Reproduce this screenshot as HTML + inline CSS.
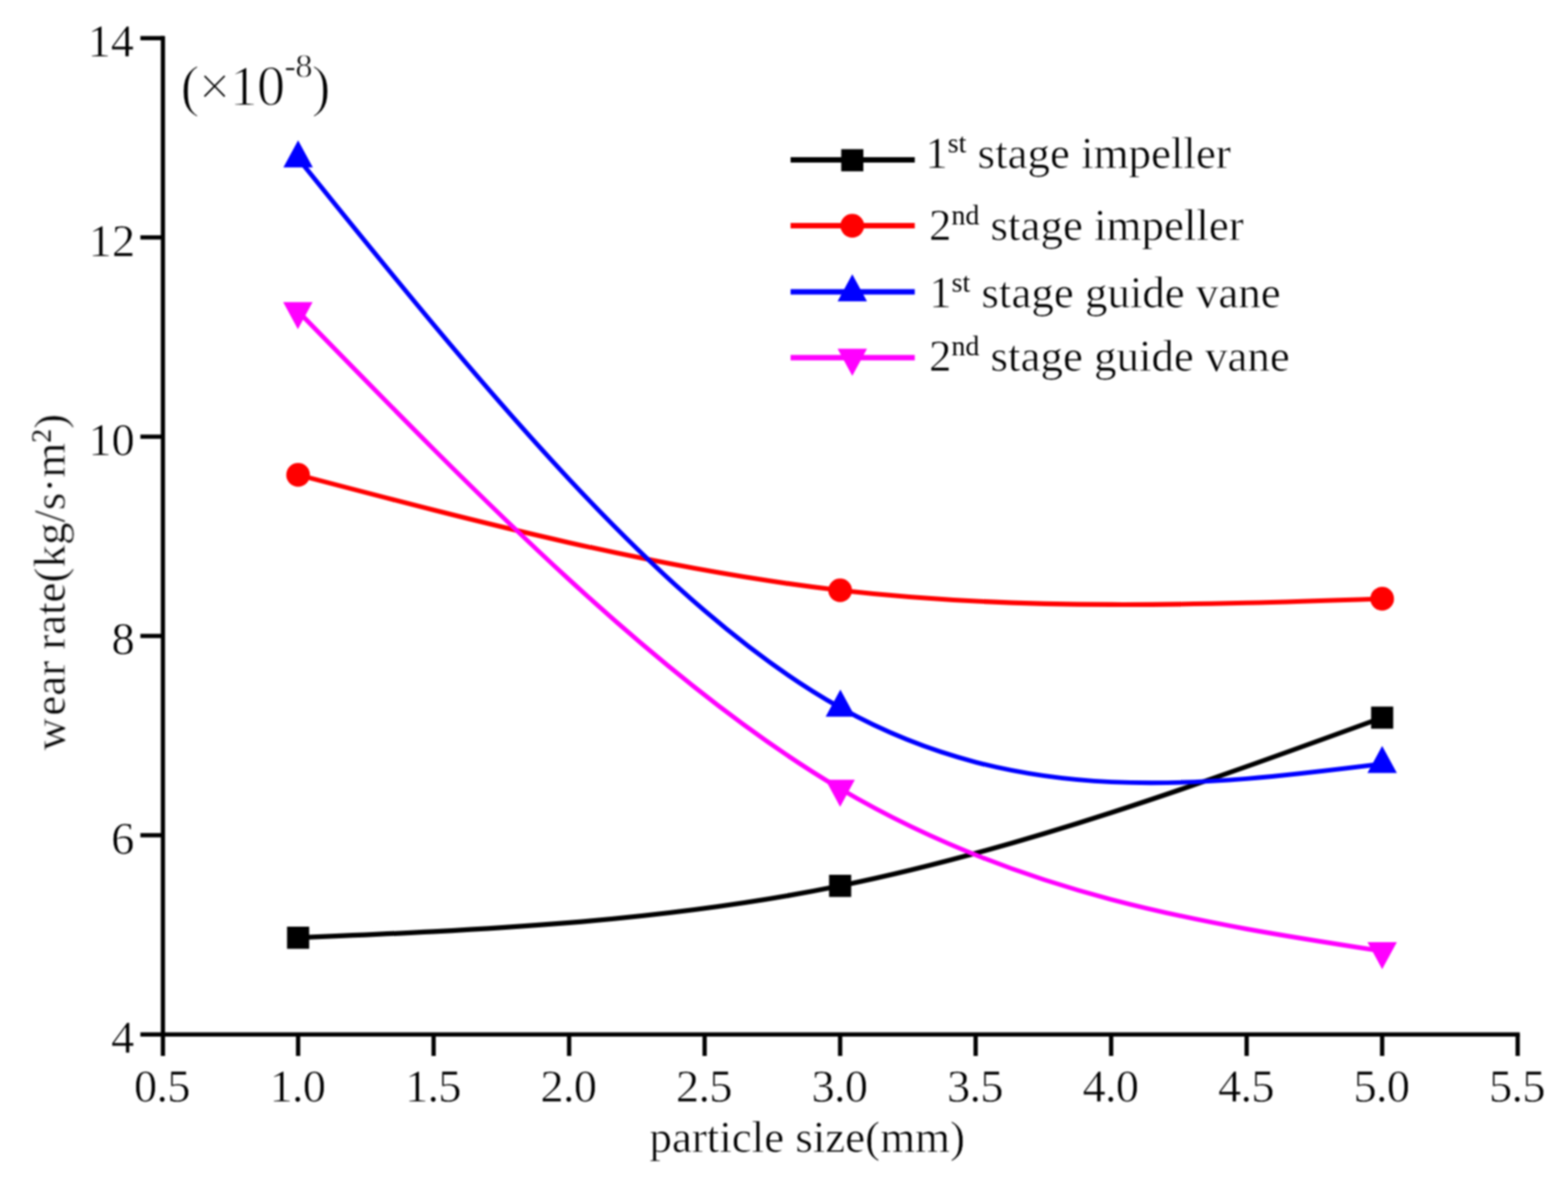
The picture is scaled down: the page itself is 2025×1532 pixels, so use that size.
<!DOCTYPE html>
<html lang="en"><head><meta charset="utf-8"><title>wear rate vs particle size</title>
<style>html,body{margin:0;padding:0;background:#fff;}body{width:2025px;height:1532px;overflow:hidden;}svg{display:block;}text{font-family:"Liberation Serif","DejaVu Serif",serif;fill:#000;stroke:#fff;stroke-width:0.7px;}.s{stroke:none;}</style></head><body>
<svg width="2025" height="1532" viewBox="0 0 2025 1532">
<defs><filter id="soft" color-interpolation-filters="sRGB" x="0" y="0" width="2025" height="1532" filterUnits="userSpaceOnUse"><feGaussianBlur stdDeviation="0.8"/></filter><filter id="softt" color-interpolation-filters="sRGB" x="0" y="0" width="2025" height="1532" filterUnits="userSpaceOnUse"><feGaussianBlur stdDeviation="0.8"/></filter></defs>
<rect width="2025" height="1532" fill="#fff"/>
<g filter="url(#soft)">
<rect width="2025" height="1532" fill="#fff"/>
<g stroke="#000" stroke-width="5.50" fill="none" stroke-linecap="butt">
<line x1="210.40" y1="46.55" x2="210.40" y2="1364.00"/>
<line x1="181.30" y1="1336.30" x2="1962.75" y2="1336.30"/>
<line x1="181.30" y1="49.30" x2="210.40" y2="49.30"/>
<line x1="181.30" y1="306.70" x2="210.40" y2="306.70"/>
<line x1="181.30" y1="564.10" x2="210.40" y2="564.10"/>
<line x1="181.30" y1="821.50" x2="210.40" y2="821.50"/>
<line x1="181.30" y1="1078.90" x2="210.40" y2="1078.90"/>
<line x1="385.00" y1="1336.30" x2="385.00" y2="1364.00"/>
<line x1="560.00" y1="1336.30" x2="560.00" y2="1364.00"/>
<line x1="735.00" y1="1336.30" x2="735.00" y2="1364.00"/>
<line x1="910.00" y1="1336.30" x2="910.00" y2="1364.00"/>
<line x1="1085.00" y1="1336.30" x2="1085.00" y2="1364.00"/>
<line x1="1260.00" y1="1336.30" x2="1260.00" y2="1364.00"/>
<line x1="1435.00" y1="1336.30" x2="1435.00" y2="1364.00"/>
<line x1="1610.00" y1="1336.30" x2="1610.00" y2="1364.00"/>
<line x1="1785.00" y1="1336.30" x2="1785.00" y2="1364.00"/>
<line x1="1960.00" y1="1336.30" x2="1960.00" y2="1364.00"/>
</g>
<path d="M385.00,1211.30 C618.33,1201.49 851.67,1191.68 1085.00,1144.30 C1318.33,1096.92 1551.67,1011.96 1785.00,927.00" fill="none" stroke="#000000" stroke-width="6.20"/>
<path d="M385.00,613.40 C618.33,674.62 851.67,735.83 1085.00,762.50 C1318.33,789.17 1551.67,781.28 1785.00,773.40" fill="none" stroke="#ff0000" stroke-width="6.10"/>
<path d="M385.00,204.70 C618.43,494.29 851.87,783.89 1085.30,914.20 C1318.53,1044.40 1551.77,1015.60 1785.00,986.80" fill="none" stroke="#0000ff" stroke-width="5.90"/>
<path d="M384.70,401.90 C618.13,641.46 851.57,881.02 1085.00,1018.80 C1318.33,1156.52 1551.67,1192.56 1785.00,1228.60" fill="none" stroke="#ff00ff" stroke-width="5.90"/>
<rect x="370.70" y="1197.00" width="28.60" height="28.60" fill="#000000"/>
<rect x="1070.70" y="1130.00" width="28.60" height="28.60" fill="#000000"/>
<rect x="1770.70" y="912.70" width="28.60" height="28.60" fill="#000000"/>
<circle cx="385.00" cy="613.40" r="15.30" fill="#ff0000"/>
<circle cx="1085.00" cy="762.50" r="15.30" fill="#ff0000"/>
<circle cx="1785.00" cy="773.40" r="15.30" fill="#ff0000"/>
<polygon points="385.00,181.37 366.00,216.37 404.00,216.37" fill="#0000ff"/>
<polygon points="1085.30,890.87 1066.30,925.87 1104.30,925.87" fill="#0000ff"/>
<polygon points="1785.00,963.47 1766.00,998.47 1804.00,998.47" fill="#0000ff"/>
<polygon points="384.70,425.23 365.70,390.23 403.70,390.23" fill="#ff00ff"/>
<polygon points="1085.00,1042.13 1066.00,1007.13 1104.00,1007.13" fill="#ff00ff"/>
<polygon points="1785.00,1251.93 1766.00,1216.93 1804.00,1216.93" fill="#ff00ff"/>
<line x1="1021" y1="206.60" x2="1181.4" y2="206.60" stroke="#000000" stroke-width="7.00"/>
<rect x="1086.40" y="192.70" width="28.60" height="28.60" fill="#000000"/>
<line x1="1021" y1="291.60" x2="1181.4" y2="291.60" stroke="#ff0000" stroke-width="7.00"/>
<circle cx="1100.70" cy="291.60" r="15.30" fill="#ff0000"/>
<line x1="1021" y1="377.10" x2="1181.4" y2="377.10" stroke="#0000ff" stroke-width="7.00"/>
<polygon points="1100.70,354.27 1081.70,389.27 1119.70,389.27" fill="#0000ff"/>
<line x1="1021" y1="462.10" x2="1181.4" y2="462.10" stroke="#ff00ff" stroke-width="7.00"/>
<polygon points="1100.70,485.53 1081.70,450.53 1119.70,450.53" fill="#ff00ff"/>
</g>
<g filter="url(#softt)">
<g font-size="58">
<text x="173.00" y="73.10" font-size="60" text-anchor="end">14</text>
<text x="174.50" y="330.50" font-size="60" text-anchor="end">12</text>
<text x="174.00" y="587.90" font-size="60" text-anchor="end">10</text>
<text x="174.00" y="845.30" font-size="60" text-anchor="end">8</text>
<text x="173.50" y="1102.70" font-size="60" text-anchor="end">6</text>
<text x="173.50" y="1360.10" font-size="60" text-anchor="end">4</text>
<text x="209.00" y="1423.20" font-size="60" letter-spacing="-1" text-anchor="middle">0.5</text>
<text x="384.00" y="1423.20" font-size="60" letter-spacing="-1" text-anchor="middle">1.0</text>
<text x="559.00" y="1423.20" font-size="60" letter-spacing="-1" text-anchor="middle">1.5</text>
<text x="734.00" y="1423.20" font-size="60" letter-spacing="-1" text-anchor="middle">2.0</text>
<text x="909.00" y="1423.20" font-size="60" letter-spacing="-1" text-anchor="middle">2.5</text>
<text x="1084.00" y="1423.20" font-size="60" letter-spacing="-1" text-anchor="middle">3.0</text>
<text x="1259.00" y="1423.20" font-size="60" letter-spacing="-1" text-anchor="middle">3.5</text>
<text x="1434.00" y="1423.20" font-size="60" letter-spacing="-1" text-anchor="middle">4.0</text>
<text x="1609.00" y="1423.20" font-size="60" letter-spacing="-1" text-anchor="middle">4.5</text>
<text x="1784.00" y="1423.20" font-size="60" letter-spacing="-1" text-anchor="middle">5.0</text>
<text x="1959.00" y="1423.20" font-size="60" letter-spacing="-1" text-anchor="middle">5.5</text>
<text x="838.8" y="1487.6">particle size(mm)</text>
<text transform="translate(83.5,969.5) rotate(-90)"><tspan x="0" y="0" dx="0 3">wear rate(kg/s·m</tspan><tspan class="s" font-size="36" dy="-18.5">2</tspan><tspan dy="18.5">)</tspan></text>
</g>
<text x="233.2" y="135.5" font-size="73" letter-spacing="-1.1" style="stroke-width:1.5px">(×10<tspan style="stroke-width:0.8px" font-size="45" dy="-35.5">-8</tspan><tspan dy="35.5">)</tspan></text>
<text x="1195.10" y="217.00" font-size="58" xml:space="preserve">1<tspan class="s" font-size="36" dy="-20.5">st</tspan><tspan dy="20.5"> stage impeller</tspan></text>
<text x="1199.80" y="310.00" font-size="58" xml:space="preserve">2<tspan class="s" font-size="36" dy="-20.5">nd</tspan><tspan dy="20.5"> stage impeller</tspan></text>
<text x="1200.00" y="397.40" font-size="58" xml:space="preserve">1<tspan class="s" font-size="36" dy="-20.5">st</tspan><tspan dy="20.5"> stage guide vane</tspan></text>
<text x="1199.80" y="479.00" font-size="58" xml:space="preserve">2<tspan class="s" font-size="36" dy="-20.5">nd</tspan><tspan dy="20.5"> stage guide vane</tspan></text>
</g>
</svg></body></html>
